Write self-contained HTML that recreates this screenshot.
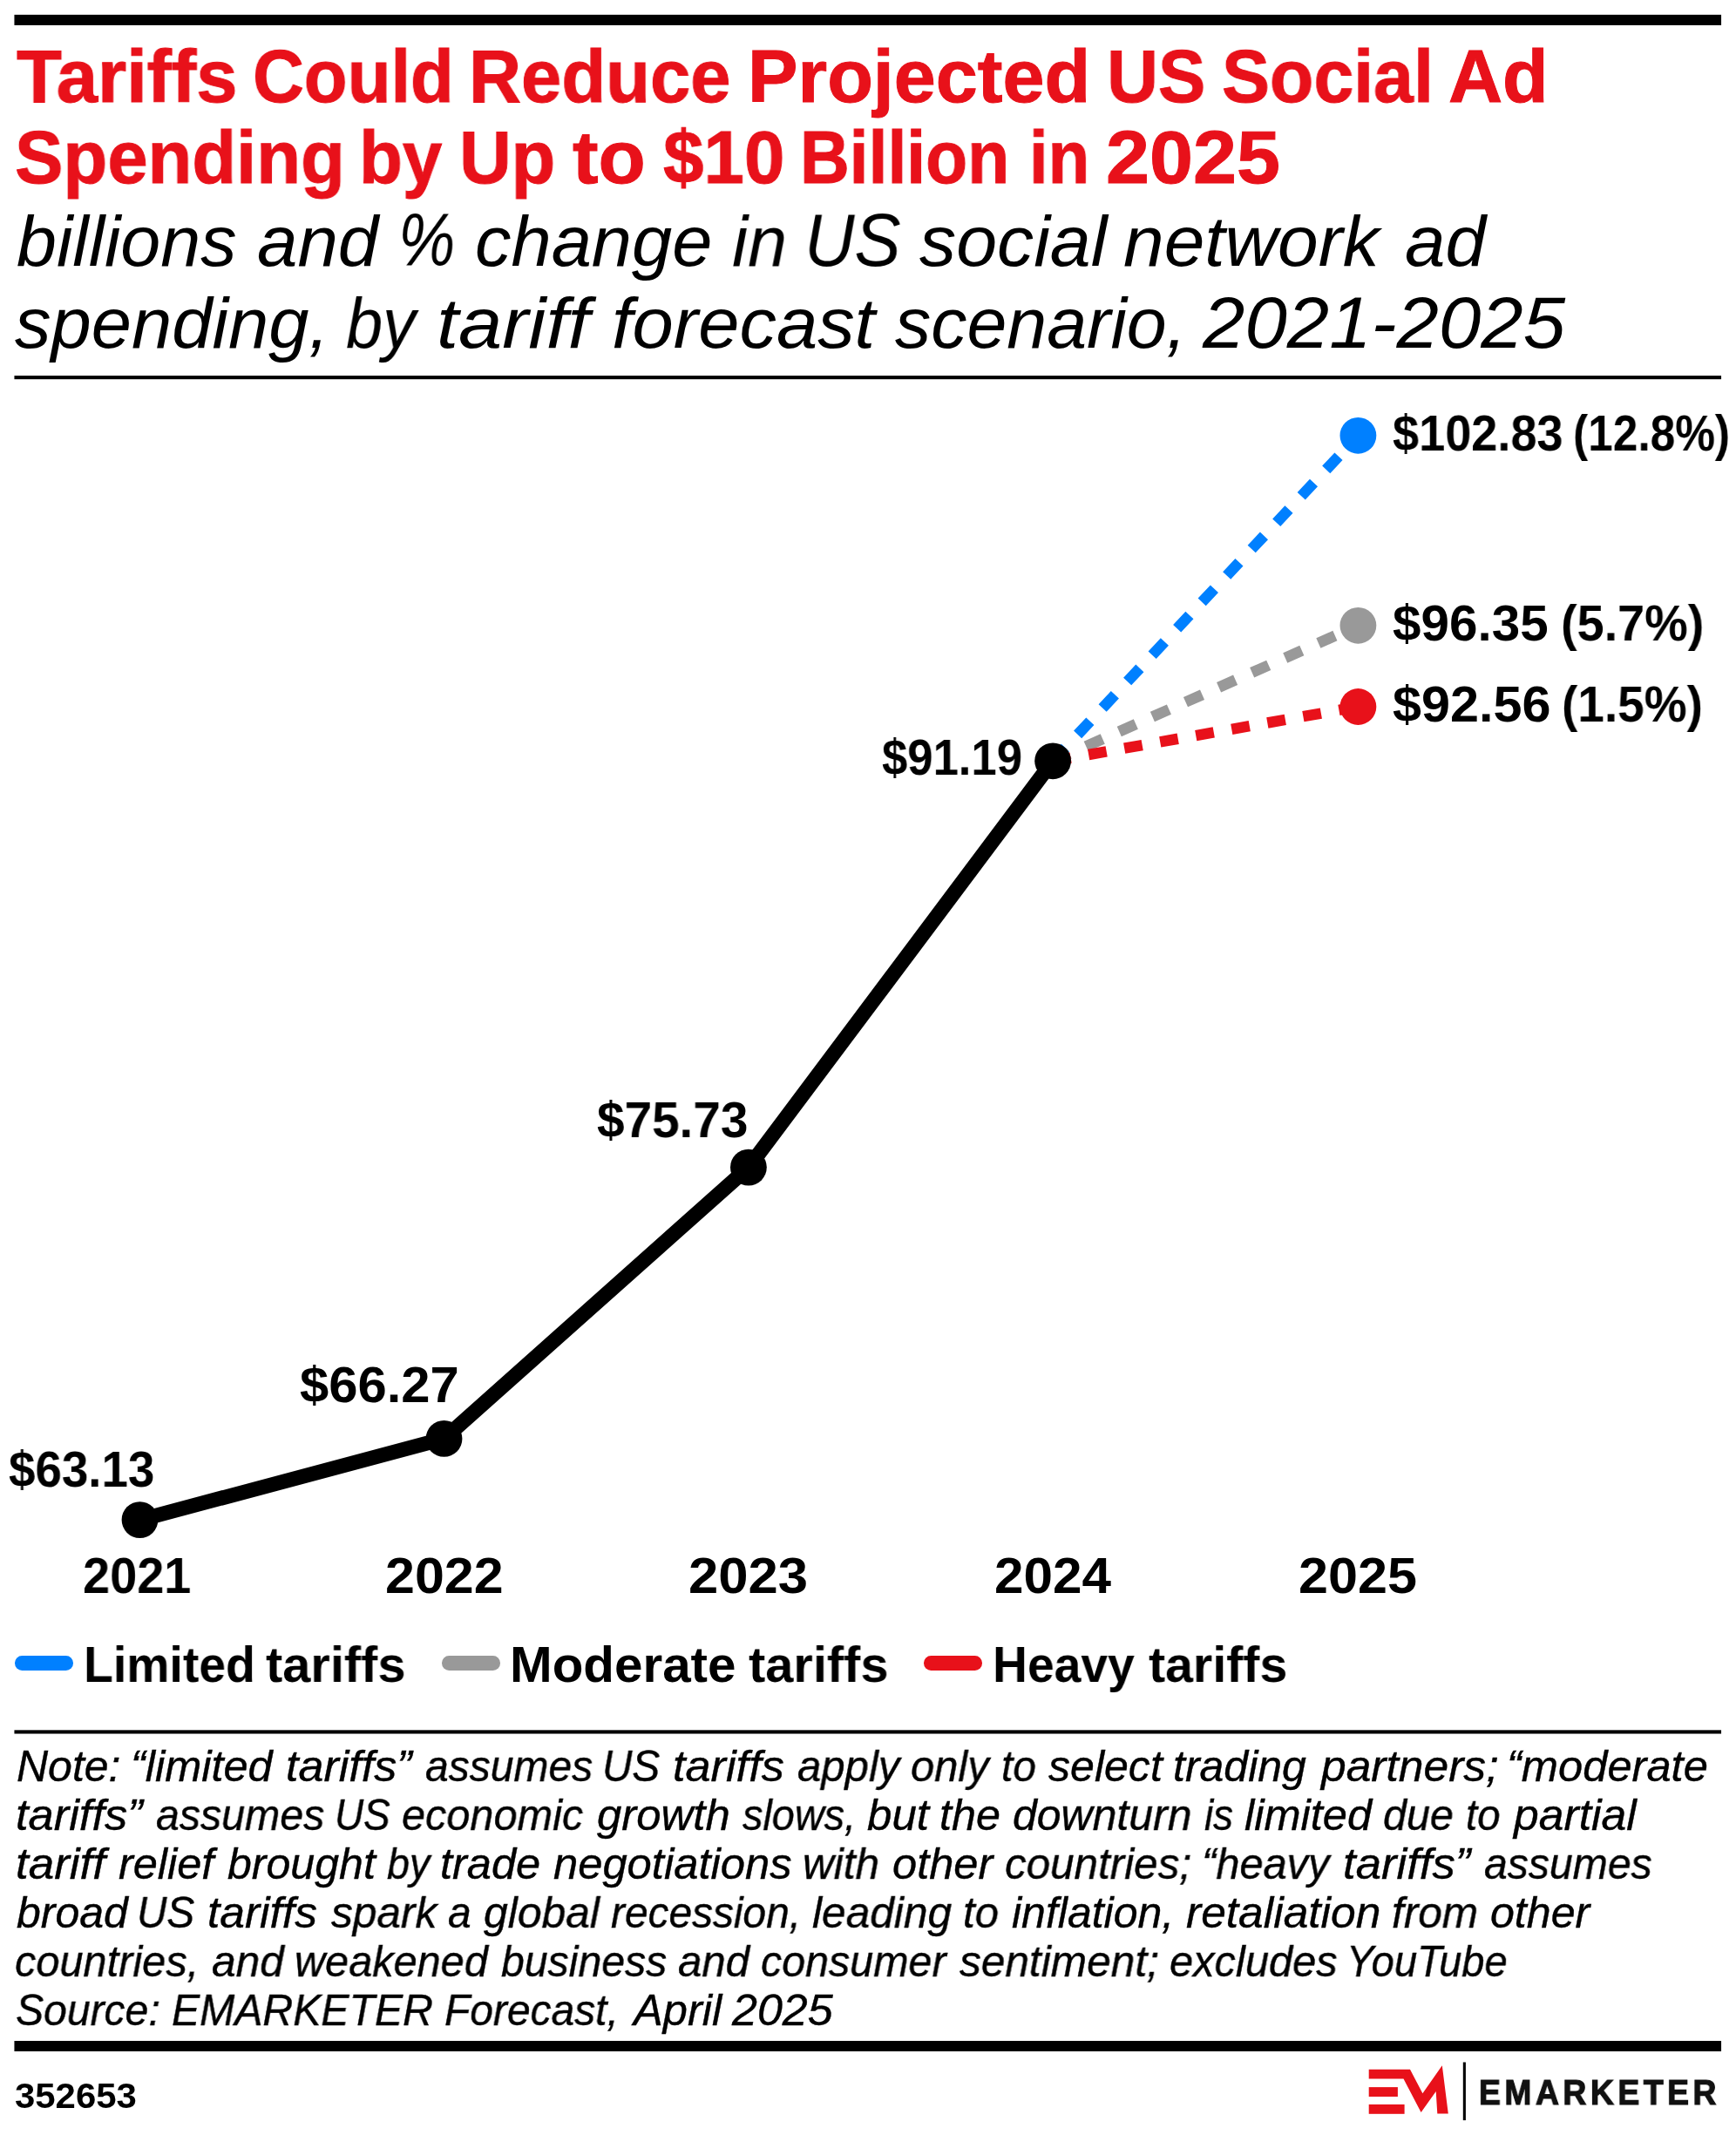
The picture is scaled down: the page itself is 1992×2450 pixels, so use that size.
<!DOCTYPE html>
<html lang="en"><head><meta charset="utf-8"><title>Tariffs Could Reduce Projected US Social Ad Spending by Up to $10 Billion in 2025</title>
<style>
html,body{margin:0;padding:0;background:#fff}
body{width:1992px;height:2450px;position:relative;overflow:hidden;font-family:"Liberation Sans",Arial,sans-serif;color:#000}
.w{position:absolute;white-space:nowrap;line-height:1;transform-origin:0 0;display:block;will-change:transform}
h1,h2,p,div{margin:0;padding:0}
.title .w{font-weight:700;color:#e8111a;-webkit-text-stroke:1px #e8111a}
.sub .w{font-style:italic;font-weight:400}
.lab .w,.ax .w,.leg .w,.id .w{font-weight:700}
.note .w{font-style:italic;-webkit-text-stroke:0.4px #000}
.logo .w{font-weight:700;color:#111;-webkit-text-stroke:1.2px #111}
svg{position:absolute;left:0;top:0}
.sw{position:absolute;top:1900px;height:16.6px;width:67px;border-radius:8.3px}
</style></head><body>
<h1 class="title"><span class="w" style="left:19.20px;top:44.30px;font-size:86.0px;transform:scaleX(0.9891)">Tariffs</span> <span class="w" style="left:289.75px;top:44.30px;font-size:86.0px;transform:scaleX(0.9473)">Could</span> <span class="w" style="left:538.30px;top:44.30px;font-size:86.0px;transform:scaleX(0.9672)">Reduce</span> <span class="w" style="left:858.31px;top:44.30px;font-size:86.0px;transform:scaleX(1.0033)">Projected</span> <span class="w" style="left:1270.17px;top:44.30px;font-size:86.0px;transform:scaleX(0.9499)">US</span> <span class="w" style="left:1401.51px;top:44.30px;font-size:86.0px;transform:scaleX(0.9586)">Social</span> <span class="w" style="left:1661.56px;top:44.30px;font-size:86.0px;transform:scaleX(1.0001)">Ad</span>
<span class="w" style="left:16.80px;top:136.90px;font-size:86.0px;transform:scaleX(0.9670)">Spending</span> <span class="w" style="left:412.10px;top:136.90px;font-size:86.0px;transform:scaleX(0.9494)">by</span> <span class="w" style="left:527.22px;top:136.90px;font-size:86.0px;transform:scaleX(0.9620)">Up</span> <span class="w" style="left:656.80px;top:136.90px;font-size:86.0px;transform:scaleX(1.0324)">to</span> <span class="w" style="left:760.90px;top:136.90px;font-size:86.0px;transform:scaleX(0.9707)">$10</span> <span class="w" style="left:918.49px;top:136.90px;font-size:86.0px;transform:scaleX(0.9139)">Billion</span> <span class="w" style="left:1180.64px;top:136.90px;font-size:86.0px;transform:scaleX(0.9044)">in</span> <span class="w" style="left:1268.69px;top:136.90px;font-size:86.0px;transform:scaleX(1.0446)">2025</span></h1>
<h2 class="sub"><span class="w" style="left:19.00px;top:235.80px;font-size:82.0px;transform:scaleX(1.0072)">billions</span> <span class="w" style="left:295.10px;top:235.80px;font-size:82.0px;transform:scaleX(1.0179)">and</span> <span class="w" style="left:457.11px;top:231.80px;font-size:86.0px;transform:scaleX(0.8536)">%</span> <span class="w" style="left:545.01px;top:235.80px;font-size:82.0px;transform:scaleX(1.0124)">change</span> <span class="w" style="left:840.23px;top:235.80px;font-size:82.0px;transform:scaleX(0.9879)">in</span> <span class="w" style="left:923.22px;top:231.80px;font-size:86.0px;transform:scaleX(0.9260)">US</span> <span class="w" style="left:1055.20px;top:235.80px;font-size:82.0px;transform:scaleX(1.0277)">social</span> <span class="w" style="left:1289.19px;top:235.80px;font-size:82.0px;transform:scaleX(1.0225)">network</span> <span class="w" style="left:1611.60px;top:235.80px;font-size:82.0px;transform:scaleX(1.0171)">ad</span>
<span class="w" style="left:17.30px;top:329.60px;font-size:82.0px;transform:scaleX(1.0137)">spending,</span> <span class="w" style="left:397.20px;top:329.60px;font-size:82.0px;transform:scaleX(0.9234)">by</span> <span class="w" style="left:501.18px;top:329.60px;font-size:82.0px;transform:scaleX(1.1008)">tariff</span> <span class="w" style="left:701.75px;top:329.60px;font-size:82.0px;transform:scaleX(1.0361)">forecast</span> <span class="w" style="left:1027.00px;top:329.60px;font-size:82.0px;transform:scaleX(1.0054)">scenario,</span> <span class="w" style="left:1380.36px;top:328.60px;font-size:83.0px;transform:scaleX(1.0483)">2021-2025</span></h2>
<svg width="1992" height="2450" viewBox="0 0 1992 2450">
<rect x="16.45" y="16.9" width="1958.6" height="12.05" fill="#000"/>
<rect x="16.45" y="431.1" width="1958.6" height="4.1" fill="#000"/>
<rect x="16.45" y="1985.35" width="1958.6" height="4.17" fill="#000"/>
<rect x="16.45" y="2342.0" width="1958.6" height="12.0" fill="#000"/>
<line x1="1208.1" y1="873.3" x2="1558.4" y2="499.8" stroke="#0080ff" stroke-width="12.5" stroke-dasharray="20.84 20.84" fill="none"/>
<line x1="1208.1" y1="873.3" x2="1558.4" y2="717.8" stroke="#999999" stroke-width="12.5" stroke-dasharray="20.84 20.84" fill="none"/>
<line x1="1208.1" y1="873.3" x2="1558.4" y2="811.0" stroke="#e8111a" stroke-width="12.5" stroke-dasharray="20.84 20.84" fill="none"/>
<polyline points="160.5,1744.1 509.5,1650.9 858.9,1339.6 1208.1,873.3" fill="none" stroke="#000" stroke-width="16.9" stroke-linejoin="round" stroke-linecap="round"/>
<circle cx="160.5" cy="1744.1" r="20.9" fill="#000"/>
<circle cx="509.5" cy="1650.9" r="20.9" fill="#000"/>
<circle cx="858.9" cy="1339.6" r="20.9" fill="#000"/>
<circle cx="1208.1" cy="873.3" r="20.9" fill="#000"/>
<circle cx="1558.4" cy="499.8" r="20.9" fill="#0080ff"/>
<circle cx="1558.4" cy="717.8" r="20.9" fill="#999999"/>
<circle cx="1558.4" cy="811.0" r="20.9" fill="#e8111a"/>
<polygon fill="#e8111a" points="1570.7,2374.8 1618.0,2374.8 1632.4,2402.2 1654.8,2370.2 1661.8,2425.5 1649.3,2425.5 1647.7,2399.9 1630.6,2423.9 1610.5,2385.5 1570.7,2385.5"/>
<rect fill="#e8111a" x="1570.7" y="2395.1" width="33.2" height="10.9"/>
<rect fill="#e8111a" x="1570.7" y="2414.9" width="40.9" height="10.9"/>
<rect fill="#000" x="1678.8" y="2366.5" width="3.1" height="66.6"/>
</svg>
<div class="lab"><span class="w" style="left:10.40px;top:1658.00px;font-size:57.0px;transform:scaleX(0.9594)">$63.13</span>
<span class="w" style="left:344.20px;top:1560.70px;font-size:57.0px;transform:scaleX(1.0487)">$66.27</span>
<span class="w" style="left:685.00px;top:1257.10px;font-size:57.0px;transform:scaleX(0.9941)">$75.73</span>
<span class="w" style="left:1012.30px;top:840.90px;font-size:57.0px;transform:scaleX(0.9230)">$91.19</span>
<span class="w" style="left:1597.80px;top:468.90px;font-size:57.0px;transform:scaleX(0.9491)">$102.83</span> <span class="w" style="left:1805.09px;top:468.90px;font-size:57.0px;transform:scaleX(0.9022)">(12.8%)</span>
<span class="w" style="left:1597.80px;top:687.00px;font-size:57.0px;transform:scaleX(1.0247)">$96.35</span> <span class="w" style="left:1790.79px;top:687.00px;font-size:57.0px;transform:scaleX(0.9782)">(5.7%)</span>
<span class="w" style="left:1597.80px;top:779.90px;font-size:57.0px;transform:scaleX(1.0409)">$92.56</span> <span class="w" style="left:1792.22px;top:779.90px;font-size:57.0px;transform:scaleX(0.9641)">(1.5%)</span></div>
<div class="ax"><span class="w" style="left:95.45px;top:1779.80px;font-size:57.0px;transform:scaleX(0.9806)">2021</span> <span class="w" style="left:442.09px;top:1779.80px;font-size:57.0px;transform:scaleX(1.0696)">2022</span> <span class="w" style="left:790.27px;top:1779.80px;font-size:57.0px;transform:scaleX(1.0809)">2023</span> <span class="w" style="left:1140.52px;top:1779.80px;font-size:57.0px;transform:scaleX(1.0568)">2024</span> <span class="w" style="left:1490.09px;top:1779.80px;font-size:57.0px;transform:scaleX(1.0720)">2025</span></div>
<div class="leg">
<i class="sw" style="left:16.5px;background:#0080ff"></i>
<i class="sw" style="left:506.7px;background:#999999"></i>
<i class="sw" style="left:1059.9px;background:#e8111a"></i>
<span class="w" style="left:96.04px;top:1881.10px;font-size:58.0px;transform:scaleX(0.9548)">Limited</span> <span class="w" style="left:305.00px;top:1881.10px;font-size:58.0px;transform:scaleX(0.9956)">tariffs</span>
<span class="w" style="left:585.25px;top:1881.10px;font-size:58.0px;transform:scaleX(1.0065)">Moderate</span> <span class="w" style="left:859.40px;top:1881.10px;font-size:58.0px;transform:scaleX(0.9956)">tariffs</span>
<span class="w" style="left:1139.35px;top:1881.10px;font-size:58.0px;transform:scaleX(0.9514)">Heavy</span> <span class="w" style="left:1317.70px;top:1881.10px;font-size:58.0px;transform:scaleX(0.9881)">tariffs</span>
</div>
<p class="note"><span class="w" style="left:18.72px;top:2002.00px;font-size:50.0px;transform:scaleX(0.9993)">Note:</span> <span class="w" style="left:149.65px;top:2002.00px;font-size:50.0px;transform:scaleX(1.0096)">“limited</span> <span class="w" style="left:327.87px;top:2002.00px;font-size:50.0px;transform:scaleX(1.0413)">tariffs”</span> <span class="w" style="left:487.85px;top:2002.00px;font-size:50.0px;transform:scaleX(0.9609)">assumes</span> <span class="w" style="left:691.22px;top:2002.00px;font-size:50.0px;transform:scaleX(0.9526)">US</span> <span class="w" style="left:771.97px;top:2002.00px;font-size:50.0px;transform:scaleX(1.0453)">tariffs</span> <span class="w" style="left:915.13px;top:2002.00px;font-size:50.0px;transform:scaleX(0.9818)">apply</span> <span class="w" style="left:1045.37px;top:2002.00px;font-size:50.0px;transform:scaleX(0.9781)">only</span> <span class="w" style="left:1148.71px;top:2002.00px;font-size:50.0px;transform:scaleX(0.9552)">to</span> <span class="w" style="left:1203.30px;top:2002.00px;font-size:50.0px;transform:scaleX(1.0013)">select</span> <span class="w" style="left:1346.44px;top:2002.00px;font-size:50.0px;transform:scaleX(0.9996)">trading</span> <span class="w" style="left:1516.31px;top:2002.00px;font-size:50.0px;transform:scaleX(1.0312)">partners;</span> <span class="w" style="left:1729.33px;top:2002.00px;font-size:50.0px;transform:scaleX(1.0129)">“moderate</span>
<span class="w" style="left:17.86px;top:2058.00px;font-size:50.0px;transform:scaleX(1.0485)">tariffs”</span> <span class="w" style="left:178.94px;top:2058.00px;font-size:50.0px;transform:scaleX(0.9665)">assumes</span> <span class="w" style="left:383.64px;top:2058.00px;font-size:50.0px;transform:scaleX(0.9166)">US</span> <span class="w" style="left:461.38px;top:2058.00px;font-size:50.0px;transform:scaleX(0.9729)">economic</span> <span class="w" style="left:684.60px;top:2058.00px;font-size:50.0px;transform:scaleX(1.0179)">growth</span> <span class="w" style="left:851.50px;top:2058.00px;font-size:50.0px;transform:scaleX(0.9365)">slows,</span> <span class="w" style="left:994.60px;top:2058.00px;font-size:50.0px;transform:scaleX(1.0216)">but</span> <span class="w" style="left:1078.23px;top:2058.00px;font-size:50.0px;transform:scaleX(1.0060)">the</span> <span class="w" style="left:1162.14px;top:2058.00px;font-size:50.0px;transform:scaleX(0.9987)">downturn</span> <span class="w" style="left:1382.28px;top:2058.00px;font-size:50.0px;transform:scaleX(0.9160)">is</span> <span class="w" style="left:1428.01px;top:2058.00px;font-size:50.0px;transform:scaleX(1.0103)">limited</span> <span class="w" style="left:1587.28px;top:2058.00px;font-size:50.0px;transform:scaleX(0.9701)">due</span> <span class="w" style="left:1681.72px;top:2058.00px;font-size:50.0px;transform:scaleX(0.9444)">to</span> <span class="w" style="left:1737.31px;top:2058.00px;font-size:50.0px;transform:scaleX(1.0335)">partial</span>
<span class="w" style="left:17.85px;top:2114.00px;font-size:50.0px;transform:scaleX(1.0591)">tariff</span> <span class="w" style="left:136.41px;top:2114.00px;font-size:50.0px;transform:scaleX(1.0093)">relief</span> <span class="w" style="left:260.60px;top:2114.00px;font-size:50.0px;transform:scaleX(1.0012)">brought</span> <span class="w" style="left:444.30px;top:2114.00px;font-size:50.0px;transform:scaleX(0.9340)">by</span> <span class="w" style="left:505.02px;top:2114.00px;font-size:50.0px;transform:scaleX(1.0105)">trade</span> <span class="w" style="left:635.01px;top:2114.00px;font-size:50.0px;transform:scaleX(1.0143)">negotiations</span> <span class="w" style="left:921.08px;top:2114.00px;font-size:50.0px;transform:scaleX(0.9912)">with</span> <span class="w" style="left:1023.72px;top:2114.00px;font-size:50.0px;transform:scaleX(1.0121)">other</span> <span class="w" style="left:1153.16px;top:2114.00px;font-size:50.0px;transform:scaleX(0.9871)">countries;</span> <span class="w" style="left:1379.35px;top:2114.00px;font-size:50.0px;transform:scaleX(0.9758)">“heavy</span> <span class="w" style="left:1540.75px;top:2114.00px;font-size:50.0px;transform:scaleX(1.0531)">tariffs”</span> <span class="w" style="left:1702.55px;top:2114.00px;font-size:50.0px;transform:scaleX(0.9632)">assumes</span>
<span class="w" style="left:18.60px;top:2170.00px;font-size:50.0px;transform:scaleX(0.9995)">broad</span> <span class="w" style="left:157.32px;top:2170.00px;font-size:50.0px;transform:scaleX(0.9526)">US</span> <span class="w" style="left:238.09px;top:2170.00px;font-size:50.0px;transform:scaleX(1.0299)">tariffs</span> <span class="w" style="left:379.90px;top:2170.00px;font-size:50.0px;transform:scaleX(0.9922)">spark</span> <span class="w" style="left:514.25px;top:2170.00px;font-size:50.0px;transform:scaleX(0.9569)">a</span> <span class="w" style="left:554.90px;top:2170.00px;font-size:50.0px;transform:scaleX(0.9963)">global</span> <span class="w" style="left:700.95px;top:2170.00px;font-size:50.0px;transform:scaleX(0.9567)">recession,</span> <span class="w" style="left:932.22px;top:2170.00px;font-size:50.0px;transform:scaleX(0.9923)">leading</span> <span class="w" style="left:1105.27px;top:2170.00px;font-size:50.0px;transform:scaleX(0.9804)">to</span> <span class="w" style="left:1160.52px;top:2170.00px;font-size:50.0px;transform:scaleX(0.9999)">inflation,</span> <span class="w" style="left:1360.60px;top:2170.00px;font-size:50.0px;transform:scaleX(1.0300)">retaliation</span> <span class="w" style="left:1597.45px;top:2170.00px;font-size:50.0px;transform:scaleX(0.9913)">from</span> <span class="w" style="left:1710.33px;top:2170.00px;font-size:50.0px;transform:scaleX(1.0017)">other</span>
<span class="w" style="left:17.08px;top:2226.00px;font-size:50.0px;transform:scaleX(0.9741)">countries,</span> <span class="w" style="left:242.52px;top:2226.00px;font-size:50.0px;transform:scaleX(0.9937)">and</span> <span class="w" style="left:337.72px;top:2226.00px;font-size:50.0px;transform:scaleX(0.9729)">weakened</span> <span class="w" style="left:575.30px;top:2226.00px;font-size:50.0px;transform:scaleX(0.9643)">business</span> <span class="w" style="left:778.23px;top:2226.00px;font-size:50.0px;transform:scaleX(0.9844)">and</span> <span class="w" style="left:873.29px;top:2226.00px;font-size:50.0px;transform:scaleX(0.9682)">consumer</span> <span class="w" style="left:1100.80px;top:2226.00px;font-size:50.0px;transform:scaleX(0.9924)">sentiment;</span> <span class="w" style="left:1341.97px;top:2226.00px;font-size:50.0px;transform:scaleX(0.9762)">excludes</span> <span class="w" style="left:1545.30px;top:2226.00px;font-size:50.0px;transform:scaleX(0.9395)">YouTube</span>
<span class="w" style="left:17.85px;top:2282.00px;font-size:50.0px;transform:scaleX(0.9618)">Source:</span> <span class="w" style="left:196.95px;top:2282.00px;font-size:50.0px;transform:scaleX(0.9639)">EMARKETER</span> <span class="w" style="left:510.25px;top:2282.00px;font-size:50.0px;transform:scaleX(0.9591)">Forecast,</span> <span class="w" style="left:727.36px;top:2282.00px;font-size:50.0px;transform:scaleX(1.0121)">April</span> <span class="w" style="left:840.31px;top:2282.00px;font-size:50.0px;transform:scaleX(1.0398)">2025</span></p>
<div class="id"><span class="w" style="left:17.45px;top:2384.70px;font-size:40px;transform:scaleX(1.0474)">352653</span></div>
<div class="logo"><span class="w" style="left:1697.47px;top:2380.60px;font-size:41px;transform:scaleX(0.9091);letter-spacing:5px">EMARKETER</span></div>
</body></html>
